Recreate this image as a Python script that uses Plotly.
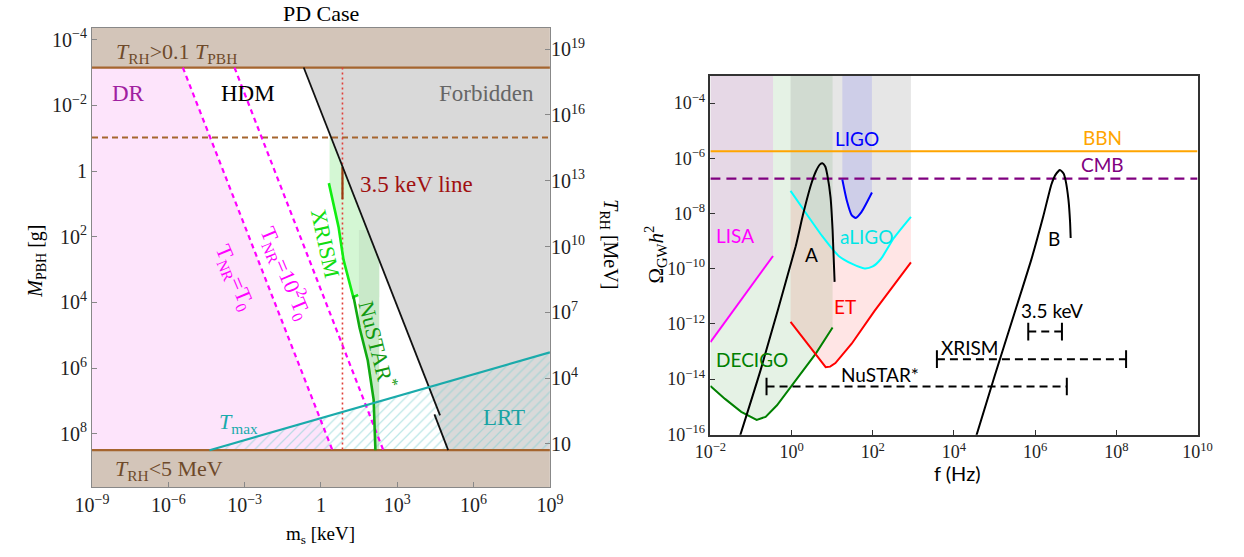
import numpy as np
import plotly.graph_objects as go

W, H = 1244, 557

# ================= LEFT PANEL DATA (log10 of m_s [keV], M_PBH [g], T_RH [MeV]) =================
ms_tick_exp = [-9, -6, -3, 0, 3, 6, 9]
mpbh_tick_exp = [-4, -2, 0, 2, 4, 6, 8]
trh_tick_exp = [1, 4, 7, 10, 13, 16, 19]

logm_range = [-9, 9]
logM_range = [9.63, -4.35]          # reversed axis
logT_range = [-0.98, 19.96]

band_top_logM = -3.15               # T_RH > 0.1 T_PBH
band_bot_logM = 8.5                 # T_RH < 5 MeV
hdm_dash_logM = -1.02
keV7_logm = 0.845                   # m_s = 7 keV (3.5 keV line)
keV35_seg_logM = [-0.13, 0.86]

tnr0_logm = [-5.43, 0.45]           # T_NR = T_0
tnr2_logm = [-3.40, 2.45]           # T_NR = 10^2 T_0
tnr_logM = [-3.15, 8.5]

bound_up_logm = [-0.679, 4.68]
bound_up_logM = [-3.15, 7.44]
bound_lo_logm = [4.46, 5.0]
bound_lo_logM = [7.41, 8.5]

xrism_logm = [0.31, 0.69, 0.885, 1.27, 1.46]
xrism_logM = [0.37, 1.70, 2.70, 3.84, 3.77]
nustar_logm = [1.27, 1.52, 1.84, 2.07, 2.14]
nustar_logM = [3.79, 4.78, 5.77, 6.96, 8.5]

tmax_logm = [-4.38, 9.0]
tmax_logM = [8.5, 5.52]

xrism_reg_logm = [0.337, 0.399, 2.29, 2.29, 1.27, 0.885, 0.69, 0.337]
xrism_reg_logM = [-1.02, -1.02, 2.72, 3.84, 3.84, 2.70, 1.70, 0.37]
nustar_reg_logm = [1.49, 1.82, 2.29, 2.29, 2.14, 2.07, 1.84, 1.52, 1.49]
nustar_reg_logM = [1.80, 1.80, 2.72, 8.5, 8.5, 6.96, 5.77, 4.78, 4.6]

# ================= RIGHT PANEL DATA (log10 of f [Hz], Omega_GW h^2) =================
f_tick_exp = [-2, 0, 2, 4, 6, 8, 10]
omega_tick_exp = [-4, -6, -8, -10, -12, -14, -16]
logf_range = [-2, 10]
logO_range = [-16.02, -3.02]

bbn_logO = -5.745
cmb_logO = -6.735

lisa_logf = [-2.0, -0.457]
lisa_logO = [-12.66, -9.54]

decigo_logf = [-2.0, -1.64, -1.24, -0.86, -0.64, -0.36, 0.12, 0.60, 1.01]
decigo_logO = [-14.25, -14.72, -15.19, -15.48, -15.37, -14.95, -14.01, -13.07, -12.13]

et_logf = [-0.025, 0.44, 0.84, 0.95, 1.08, 1.48, 2.04, 2.52, 2.94]
et_logO = [-11.93, -12.83, -13.57, -13.55, -13.42, -12.72, -11.54, -10.60, -9.77]

aligo_logf = [-0.025, 0.36, 0.76, 1.16, 1.48, 1.80, 2.00, 2.20, 2.52, 2.94]
aligo_logO = [-7.18, -8.00, -8.83, -9.54, -9.82, -9.99, -9.92, -9.65, -8.89, -8.12]

ligo_logf = [1.25, 1.36, 1.48, 1.58, 1.72, 1.98]
ligo_logO = [-6.77, -7.53, -8.06, -8.16, -7.95, -7.24]

gwA_logf = [-1.3, -0.76, 0.10, 0.28, 0.48, 0.60, 0.70, 0.76, 0.83, 0.88, 0.96, 1.01, 1.06]
gwA_logO = [-16.2, -13.66, -9.2, -8.05, -6.95, -6.47, -6.22, -6.18, -6.30, -6.60, -7.42, -8.59, -10.48]

gwB_logf = [4.5, 5.0, 5.48, 5.9, 6.2, 6.4, 6.5, 6.61, 6.7, 6.75, 6.82, 6.86, 6.875]
gwB_logO = [-16.3, -13.9, -11.66, -9.7, -8.1, -6.95, -6.6, -6.42, -6.55, -6.8, -7.5, -8.3, -8.89]

interval_names = ["3.5 keV", "XRISM", "NuSTAR*"]
interval_lo_logf = [5.83, 3.58, -0.617]
interval_hi_logf = [6.66, 8.24, 6.78]
interval_logO = [-12.28, -13.28, -14.27]
interval_cap = 0.32


def p10(a):
    return [None if v is None else 10.0 ** v for v in a]


def sup(k, one="1"):
    if k == 0 and one is not None:
        return one
    if k == 1 and one == "1":
        return "10"
    return "10<sup>%s</sup>" % str(k).replace("-", "\u2212")


fig = go.Figure()


def add(x, y, xa="x", ya="y", **kw):
    fig.add_trace(go.Scatter(x=p10(x), y=p10(y), xaxis=xa, yaxis=ya,
                             showlegend=False, hoverinfo="skip", **kw))


NOLINE = dict(width=0)
serif = "Liberation Serif, Times New Roman, serif"
sans = "Lato, Open Sans, DejaVu Sans, sans-serif"

# ---------------- LEFT PANEL ----------------
xl0, xl1 = logm_range
yt, yb = logM_range[1], logM_range[0]

# DR region (pink)
add([xl0, tnr0_logm[0], tnr0_logm[1], xl0], [band_top_logM, tnr_logM[0], tnr_logM[1], band_bot_logM],
    fill="toself", fillcolor="#fde4fb", line=NOLINE, mode="lines")
# Forbidden (gray)
add([bound_up_logm[0], xl1, xl1, bound_lo_logm[1], bound_lo_logm[0], bound_up_logm[1]],
    [band_top_logM, band_top_logM, band_bot_logM, bound_lo_logM[1], bound_lo_logM[0], bound_up_logM[1]],
    fill="toself", fillcolor="#d9d9d9", line=NOLINE, mode="lines")
# XRISM / NuSTAR regions
add(xrism_reg_logm, xrism_reg_logM, fill="toself", fillcolor="#d4f7d4", line=NOLINE, mode="lines")
add(nustar_reg_logm, nustar_reg_logM, fill="toself", fillcolor="#c9e9c9", line=NOLINE, mode="lines")
# LRT hatched region
add([tmax_logm[0], tmax_logm[1], xl1, tmax_logm[0]], [tmax_logM[0], tmax_logM[1], band_bot_logM, tmax_logM[0]],
    fill="toself", fillcolor="rgba(0,0,0,0)", line=NOLINE, mode="lines",
    fillpattern=dict(shape="/", fgcolor="#7ccfcf", bgcolor="rgba(0,0,0,0)", size=7, solidity=0.18))
# brown bands
add([xl0, xl1, xl1, xl0], [yt, yt, band_top_logM, band_top_logM], fill="toself", fillcolor="#d3c5b9",
    line=NOLINE, mode="lines")
add([xl0, xl1, xl1, xl0], [band_bot_logM, band_bot_logM, yb, yb], fill="toself", fillcolor="#d3c5b9",
    line=NOLINE, mode="lines")
add([xl0, xl1], [band_top_logM, band_top_logM], mode="lines", line=dict(color="#a5652e", width=2.2))
add([xl0, xl1], [band_bot_logM, band_bot_logM], mode="lines", line=dict(color="#a5652e", width=2.2))
# HDM horizontal dashed
add([xl0, xl1], [hdm_dash_logM, hdm_dash_logM], mode="lines",
    line=dict(color="#a5652e", width=1.8, dash="6px,4px"))
# T_NR lines
add(tnr0_logm, tnr_logM, mode="lines", line=dict(color="#ff00ff", width=2.2, dash="5px,4px"))
add(tnr2_logm, tnr_logM, mode="lines", line=dict(color="#ff00ff", width=2.2, dash="5px,4px"))
# 7 keV dotted line
add([keV7_logm, keV7_logm], [band_top_logM, band_bot_logM], mode="lines",
    line=dict(color="#e0403a", width=1.6, dash="2px,3px"))
add([keV7_logm, keV7_logm], keV35_seg_logM, mode="lines", line=dict(color="#9a3a10", width=2.2))
# boundary (black)
add(bound_up_logm, bound_up_logM, mode="lines", line=dict(color="#111111", width=1.8))
add(bound_lo_logm, bound_lo_logM, mode="lines", line=dict(color="#111111", width=1.8))
# XRISM, NuSTAR lines
add(xrism_logm, xrism_logM, mode="lines", line=dict(color="#11ee11", width=2.6))
add(nustar_logm, nustar_logM, mode="lines", line=dict(color="#11aa11", width=2.6))
# T_max
add(tmax_logm, tmax_logM, mode="lines", line=dict(color="#1aabab", width=2.2))
# invisible trace for right (T_RH) axis
add([0], [10], ya="y2", mode="markers", marker=dict(opacity=0))

# ---------------- RIGHT PANEL ----------------
top = logO_range[1]
R = dict(xa="x2", ya="y3")
# DECIGO region
add(decigo_logf + [decigo_logf[-1], decigo_logf[0]], decigo_logO + [top, top], **R,
    fill="toself", fillcolor="rgba(0,128,0,0.1)", line=NOLINE, mode="lines")
# LISA region
add(lisa_logf + [lisa_logf[-1], lisa_logf[0]], lisa_logO + [top, top], **R,
    fill="toself", fillcolor="#e6d8e6", line=NOLINE, mode="lines")
# ET region (between ET and aLIGO curves)
add(et_logf + aligo_logf[::-1], et_logO + aligo_logO[::-1], **R,
    fill="toself", fillcolor="rgba(255,0,0,0.1)", line=NOLINE, mode="lines")
# aLIGO region
add(aligo_logf + [aligo_logf[-1], aligo_logf[0]], aligo_logO + [top, top], **R,
    fill="toself", fillcolor="rgba(128,128,128,0.2)", line=NOLINE, mode="lines")
# LIGO region
add(ligo_logf + [ligo_logf[-1], ligo_logf[0]], ligo_logO + [top, top], **R,
    fill="toself", fillcolor="rgba(0,0,255,0.1)", line=NOLINE, mode="lines")

add(logf_range, [bbn_logO, bbn_logO], **R, mode="lines", line=dict(color="#ffa500", width=2.2))
add(logf_range, [cmb_logO, cmb_logO], **R, mode="lines", line=dict(color="#800080", width=2.2, dash="10px,6px"))

add(lisa_logf, lisa_logO, **R, mode="lines", line=dict(color="#ff00ff", width=2))
add(decigo_logf, decigo_logO, **R, mode="lines", line=dict(color="#008000", width=2))
add(et_logf, et_logO, **R, mode="lines", line=dict(color="#ff0000", width=2))
add(aligo_logf, aligo_logO, **R, mode="lines", line=dict(color="#00ffff", width=2, shape="spline", smoothing=0.6))
add(ligo_logf, ligo_logO, **R, mode="lines", line=dict(color="#0000ff", width=2, shape="spline", smoothing=0.6))
add(gwA_logf, gwA_logO, **R, mode="lines", line=dict(color="#000000", width=2, shape="spline", smoothing=0.5))
add(gwB_logf, gwB_logO, **R, mode="lines", line=dict(color="#000000", width=2, shape="spline", smoothing=0.5))

for lo, hi, yv in zip(interval_lo_logf, interval_hi_logf, interval_logO):
    add([lo, hi], [yv, yv], **R, mode="lines", line=dict(color="#000000", width=2, dash="8px,5px"))
    add([lo, lo, None, hi, hi], [yv - interval_cap, yv + interval_cap, None, yv - interval_cap, yv + interval_cap],
        **R, mode="lines", line=dict(color="#000000", width=2))

# ---------------- ANNOTATIONS ----------------
ann = []


def A(text, x, y, xref="x", yref="y", size=22, color="#000", font=serif, angle=0, xanchor="center", **kw):
    ann.append(dict(text=text, x=x, y=y, xref=xref, yref=yref, showarrow=False, textangle=angle,
                    xanchor=xanchor, yanchor="middle",
                    font=dict(family=font, size=size, color=color), **kw))


brown_t = "#6e4a2a"
A("<i>T</i><sub>RH</sub>&gt;0.1 <i>T</i><sub>PBH</sub>", -5.67, -3.6, size=22, color=brown_t)
A("DR", -7.56, -2.36, size=23, color="#a020a0")
A("HDM", -2.87, -2.36, size=23, color="#000000")
A("Forbidden", 6.52, -2.36, size=23, color="#666666")
A("3.5 keV line", 1.45, 0.42, size=23, color="#a01010", xanchor="left")
A("XRISM", 0.18, 2.2, size=22, color="#11dd11", angle=78)
A("NuSTAR<sup>*</sup>", 2.23, 5.28, size=22, color="#119911", angle=76)
A("T<sub>NR</sub>=T<sub>0</sub>", -3.40, 3.25, size=22, color="#ff00ff", angle=67)
A("T<sub>NR</sub>=10<sup>2</sup>T<sub>0</sub>", -1.38, 3.1, size=22, color="#ff00ff", angle=67)
A("<i>T</i><sub>max</sub>", -3.26, 7.66, size=22, color="#1aabab")
A("LRT", 7.21, 7.51, size=23, color="#1aa3a3")
A("<i>T</i><sub>RH</sub>&lt;5 MeV", -5.97, 9.09, size=22, color=brown_t)

# left panel titles (paper coords)
A("PD Case", 312 / W, 1 - 12 / H, xref="paper", yref="paper", size=22)
A("<i>M</i><sub>PBH</sub> [g]", 20 / W, 1 - 265 / H, xref="paper", yref="paper", size=20, angle=-90)
A("m<sub>s</sub> [keV]", 312 / W, 1 - 545 / H, xref="paper", yref="paper", size=19)
A("<i>T</i><sub>RH</sub> [MeV]", 608 / W, 1 - 248 / H, xref="paper", yref="paper", size=20, angle=90)

# right panel labels
RR = dict(xref="x2", yref="y3", font=sans, size=19)
A("LIGO", 1.62, -5.30, color="#0000ff", **RR)
A("BBN", 7.65, -5.26, color="#ffa500", **RR)
A("CMB", 7.65, -6.24, color="#800080", **RR)
A("LISA", -1.39, -8.80, color="#ff00ff", **RR)
A("aLIGO", 1.84, -8.83, color="#00e5e5", **RR)
A("A", 0.50, -9.48, color="#000000", **RR)
A("B", 6.47, -8.89, color="#000000", **RR)
A("ET", 1.32, -11.36, color="#ff0000", **RR)
A("DECIGO", -0.985, -13.30, color="#008000", **RR)
A("3.5 keV", 6.42, -11.50, color="#000000", **RR)
A("XRISM", 4.40, -12.86, color="#000000", **RR)
A("NuSTAR*", 2.19, -13.84, color="#000000", **RR)
A("f (Hz)", 965 / W, 1 - 481 / H, xref="paper", yref="paper", font=sans, size=20)
A("\u03a9<sub>GW</sub><i>h</i><sup>2</sup>", 655 / W, 1 - 258 / H, xref="paper", yref="paper",
  font=serif, size=21, angle=-90)

left_ax = dict(type="log", showgrid=False, zeroline=False, showline=True, linecolor="#888888", linewidth=1.2,
               ticks="inside", ticklen=5, tickcolor="#888888", tickfont=dict(family=serif, size=20, color="#222"))
right_ax = dict(type="log", showgrid=False, zeroline=False, showline=True, linecolor="#333333", linewidth=1.5,
                mirror=True, ticks="inside", ticklen=5, tickcolor="#333333",
                tickfont=dict(family=serif, size=18, color="#222"))

fig.update_layout(
    width=W, height=H, autosize=False,
    margin=dict(l=0, r=0, t=0, b=0),
    paper_bgcolor="white", plot_bgcolor="white",
    showlegend=False,
    xaxis=dict(**left_ax, domain=[77 / W, 547 / W], range=logm_range, anchor="y", mirror=True,
               tickvals=p10(ms_tick_exp), ticktext=[sup(k) for k in ms_tick_exp]),
    yaxis=dict(**left_ax, domain=[1 - 496 / H, 1 - 26.7 / H], range=logM_range, anchor="x", mirror=True,
               tickvals=p10(mpbh_tick_exp), ticktext=[sup(k) for k in mpbh_tick_exp]),
    yaxis2=dict(type="log", showgrid=False, zeroline=False, showline=False, overlaying="y", side="right",
                anchor="x", range=logT_range, ticks="inside", ticklen=5, tickcolor="#888888",
                tickfont=dict(family=serif, size=20, color="#222"),
                tickvals=p10(trh_tick_exp), ticktext=[sup(k, one="1") for k in trh_tick_exp]),
    xaxis2=dict(**right_ax, domain=[711.7 / W, 1211.7 / W], range=logf_range, anchor="y3",
                tickvals=p10(f_tick_exp), ticktext=[sup(k, one=None) for k in f_tick_exp]),
    yaxis3=dict(**right_ax, domain=[1 - 442.3 / H, 1 - 75.7 / H], range=logO_range, anchor="x2",
                tickvals=p10(omega_tick_exp), ticktext=[sup(k, one=None) for k in omega_tick_exp]),
    annotations=ann,
)

fig.write_html("out.html", config={"displayModeBar": False},
               post_script="document.body.style.margin='0';")
